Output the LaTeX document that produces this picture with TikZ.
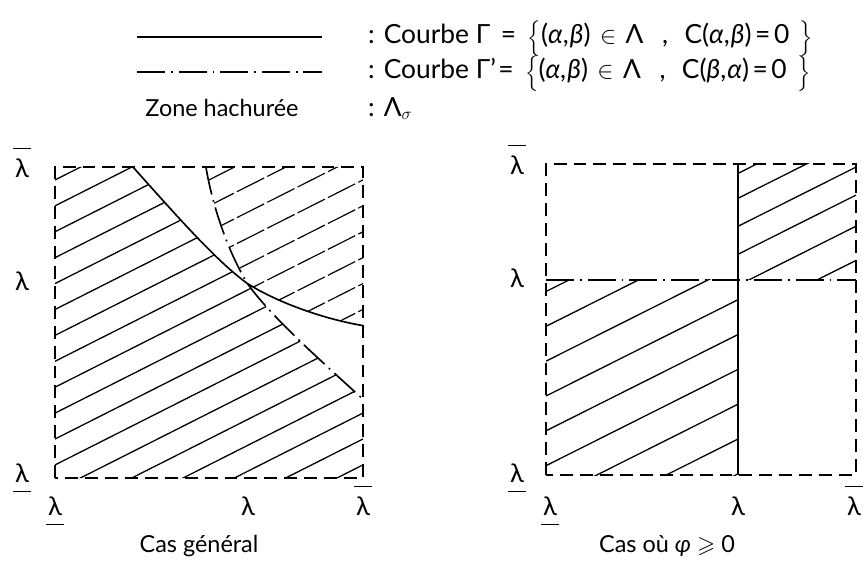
\documentclass[tikz,border=0pt]{standalone}
\usepackage{amsmath,amssymb}
\usepackage{fontspec}
\setmainfont{Lato}
\usetikzlibrary{positioning}

% lambda with bar above / below
\newcommand{\lamhi}{$\overline{\kern1.5pt\raisebox{0pt}[\dimexpr\height+5pt\relax]{λ}\kern1.5pt}$}
\newcommand{\lamlo}{$\underline{\kern1.5pt\raisebox{0pt}[\height][\dimexpr\depth+5pt\relax]{λ}\kern1.5pt}$}
\newcommand{\ga}{\textit{α}}
\newcommand{\gb}{\textit{β}}
\newcommand{\pair}[2]{(#1,\kern1pt#2)}
\newcommand{\lbr}{{\fontsize{17}{20}\selectfont$\Big\{$}}
\newcommand{\rbr}{{\fontsize{17}{20}\selectfont$\Big\}$}}

\begin{document}
\begin{tikzpicture}[
  x=0.03cm, y=-0.03cm,
  every node/.style={font=\fontsize{20}{23}\selectfont, inner sep=0pt},
  lab/.style={anchor=base, font=\fontsize{22}{24}\selectfont},
  leg/.style={anchor=base west, font=\fontsize{22.5}{25}\selectfont},
  frame/.style={line width=1.2pt, dash pattern=on 11pt off 6pt},
  gamma/.style={line width=1.4pt},
  gammap/.style={line width=1.4pt, dash pattern=on 24pt off 5pt on 1.5pt off 5pt},
  hatch/.style={line width=1.1pt},
  hatchlight/.style={line width=1pt, dash pattern=on 26pt off 3pt},
]
\useasboundingbox (0,0) rectangle (863,563);

% legend
\coordinate (legGa) at (137,37);
\coordinate (legGb) at (322,37);
\coordinate (legPa) at (137,72);
\coordinate (legPb) at (322,72);
\draw[gamma, line width=2pt] (legGa) -- (legGb);
\draw[gammap, line width=1.8pt] (legPa) -- (legPb);
\node[leg] (legG) at (368,44) {: Courbe Γ\hspace{9pt}=\hspace{10pt}\lbr\pair{\ga}{\gb}\hspace{8pt}$\in$\hspace{8pt}Λ\hspace{16pt},\hspace{14pt}C\pair{\ga}{\gb}\hspace{3pt}=\hspace{3pt}0\hspace{9pt}\rbr};
\node[leg] (legP) at (368,79) {: Courbe Γ'\hspace{2pt}=\hspace{10pt}\lbr\pair{\ga}{\gb}\hspace{8pt}$\in$\hspace{8pt}Λ\hspace{16pt},\hspace{14pt}C\pair{\gb}{\ga}\hspace{3pt}=\hspace{3pt}0\hspace{9pt}\rbr};
\node[anchor=base] (legZ) at (222,116) {Zone hachurée};
\node[leg] (legZt) at (368,116) {: Λ$_{\sigma}$};

% general case
\begin{scope}[shift={(55,478)}, x=9.24cm, y=9.33cm]
  \coordinate (gA) at (0.253,1);
  \coordinate (gI) at (0.625,0.625);
  \coordinate (gB) at (1,0.49);
  \coordinate (pA) at (0.49,1);
  \coordinate (pB) at (1,0.253);
  \begin{scope}
    \clip (0,0) -- (0,1) -- (gA) .. controls (0.38,0.86) and (0.52,0.70) .. (gI)
      .. controls (0.70,0.52) and (0.86,0.38) .. (pB) -- (1,0) -- cycle;
    \foreach \n in {-1,...,17}
      \draw[hatch] (0,{0.875-0.0833*\n}) -- (1,{1.375-0.0833*\n});
  \end{scope}
  \begin{scope}
    \clip (pA) -- (1,1) -- (gB) .. controls (0.88,0.51) and (0.73,0.56) .. (gI)
      .. controls (0.56,0.73) and (0.51,0.88) .. (pA) -- cycle;
    \foreach \n in {-1,...,17}
      \draw[hatchlight] (0,{0.875-0.0833*\n}) -- (1,{1.375-0.0833*\n});
  \end{scope}
  \draw[frame] (0,0) rectangle (1,1);
  \draw[gamma] (gA) .. controls (0.38,0.86) and (0.52,0.70) .. (gI)
    .. controls (0.73,0.56) and (0.88,0.51) .. (gB);
  \draw[gammap] (pA) .. controls (0.51,0.88) and (0.56,0.73) .. (gI)
    .. controls (0.70,0.52) and (0.86,0.38) .. (pB);
\end{scope}
\node[lab] (gYhi) at (22,177) {\lamhi};
\node[lab] (gYmid) at (22,290) {λ};
\node[lab] (gYlo) at (22,482) {\lamlo};
\node[lab] (gXlo) at (55,515) {\lamlo};
\node[lab] (gXmid) at (248,515) {λ};
\node[lab] (gXhi) at (363,515) {\lamhi};
\node (capG) at (199,546) {Cas général};

% case phi >= 0
\begin{scope}[shift={(546,475)}, x=9.3cm, y=9.33cm]
  \coordinate (cI) at (0.619,0.627);
  \begin{scope}
    \clip (0,0) rectangle (cI);
    \foreach \k in {0.59,0.478,0.366,0.254,0.142,0.03,-0.082,-0.194,-0.306}
      \draw[hatch] (0,\k) -- (1,\k+0.5);
  \end{scope}
  \begin{scope}
    \clip (cI) rectangle (1,1);
    \foreach \k in {0.66,0.58,0.49,0.40,0.30,0.19}
      \draw[hatch] (0,\k) -- (1,\k+0.5);
  \end{scope}
  \draw[frame] (0,0) rectangle (1,1);
  \draw[gamma] (0.619,0) -- (0.619,1);
  \draw[gammap] (0,0.627) -- (1,0.627);
\end{scope}
\node[lab] (cYhi) at (517,174) {\lamhi};
\node[lab] (cYmid) at (517,287) {λ};
\node[lab] (cYlo) at (517,482) {\lamlo};
\node[lab] (cXlo) at (550,515) {\lamlo};
\node[lab] (cXmid) at (738,515) {λ};
\node[lab] (cXhi) at (854,515) {\lamhi};
\node (capC) at (667,546) {Cas où \textit{φ} $\geqslant$ 0};
\end{tikzpicture}
\end{document}
